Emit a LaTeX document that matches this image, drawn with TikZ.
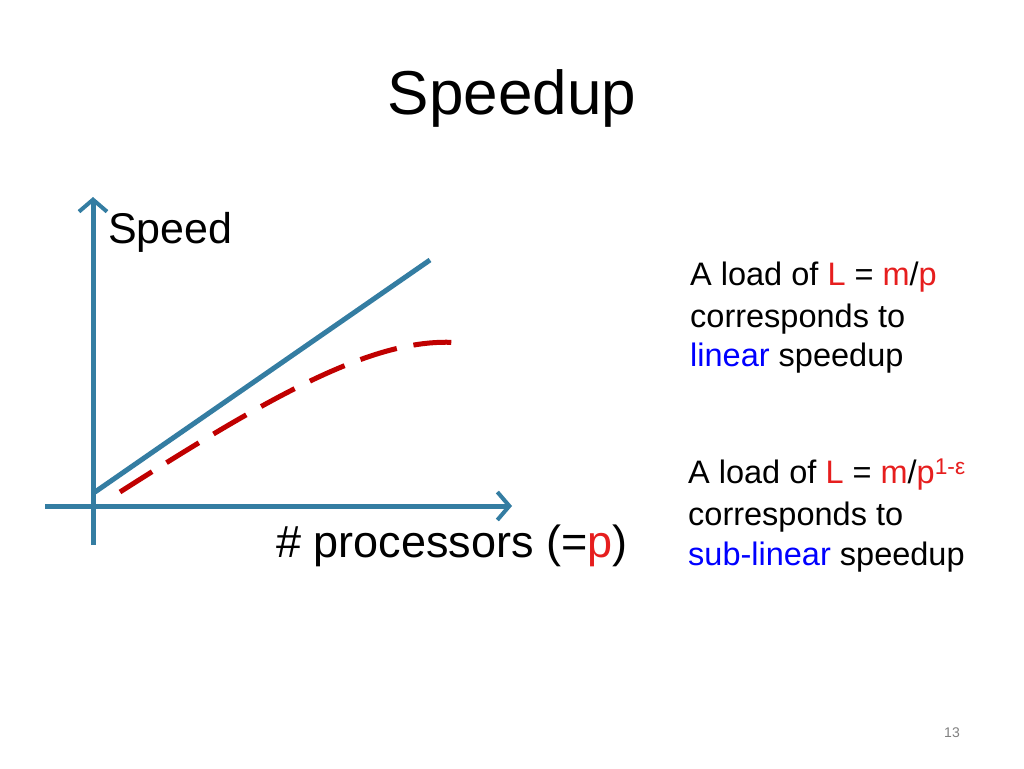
\documentclass[tikz,border=0pt]{standalone}
\usepackage{fontspec}
\setmainfont{Liberation Sans}
\usetikzlibrary{arrows.meta}
\definecolor{axb}{RGB}{52,125,162}
\definecolor{dred}{RGB}{192,0,0}
\definecolor{tred}{RGB}{230,30,30}
\begin{document}
\begin{tikzpicture}[x=1pt,y=-1pt,
  axis/.style={axb,line width=5pt,-{Straight Barb[length=12pt,width=28pt,line width=4pt]}},
  txt/.style={anchor=west,inner sep=0pt,font=\fontsize{32.5}{36}\selectfont}]
\useasboundingbox (0,0) rectangle (1024,768);
\node (title) at (512,98) {\fontsize{62}{70}\selectfont Speedup};
\coordinate (yb) at (93,545); \coordinate (yt) at (93,197);
\coordinate (xl) at (45,506); \coordinate (xr) at (512,506);
\draw[axis] (yb) -- (yt);
\draw[axis] (xl) -- (xr);
\coordinate (l1) at (95,492); \coordinate (l2) at (430,260);
\draw[axb,line width=5pt] (l1) -- (l2);
\coordinate (c1) at (120,492); \coordinate (c2) at (462,343);
\draw[dred,line width=5pt,dash pattern=on 38pt off 17pt] (c1) .. controls (280,390) and (380,335) .. (c2);
\node[txt] (sp) at (108,232) {\fontsize{43}{47}\selectfont Speed};
\node (xlab) at (452,546) {\fontsize{45}{50}\selectfont \# processors (=\textcolor{tred}{p})};
\node[txt] (a1) at (690,277) {A load of \textcolor{tred}{L} = \textcolor{tred}{m}/\textcolor{tred}{p}};
\node[txt] (a2) at (690,319) {corresponds to};
\node[txt] (a3) at (690,358) {\textcolor{blue}{linear} speedup};
\node[txt] (b1) at (688,475) {A load of \textcolor{tred}{L} = \textcolor{tred}{m}/\textcolor{tred}{p}\textsuperscript{\textcolor{tred}{1-ε}}};
\node[txt] (b2) at (688,517) {corresponds to};
\node[txt] (b3) at (688,557) {\textcolor{blue}{sub-linear} speedup};
\node[text=gray] (pg) at (952,733) {\fontsize{14}{16}\selectfont 13};
\end{tikzpicture}
\end{document}
